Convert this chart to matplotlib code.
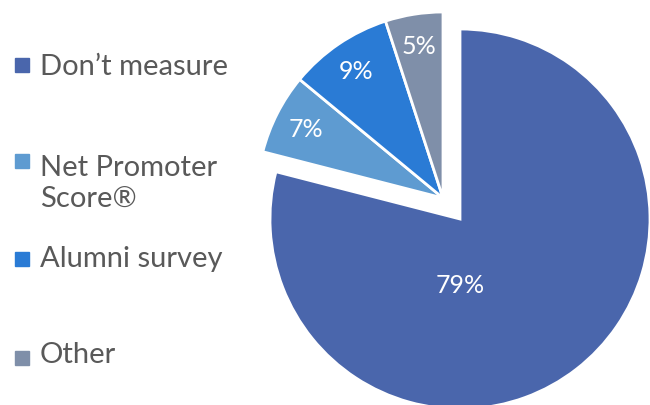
import matplotlib.pyplot as plt
from matplotlib.patches import Rectangle

# Share of respondents by how they measure
labels = ["Don’t measure", "Net Promoter\nScore®", "Alumni survey", "Other"]
shares = [79, 7, 9, 5]
colors = ["#4A66AC", "#5E9BD1", "#2A7BD5", "#7F8FA9"]

plt.rcParams['font.family'] = ['Lato', 'DejaVu Sans']

fig = plt.figure(figsize=(6.5, 4.06), dpi=100)
ax = fig.add_axes([0, 0, 1, 1])

center = (460, 186)
radius = 190
wedges, _, pcts = ax.pie(
    shares, colors=colors, startangle=90, counterclock=False,
    center=center, radius=radius, autopct='%d%%', pctdistance=0.81,
    wedgeprops=dict(edgecolor='white', linewidth=2),
    textprops=dict(color='white', fontsize=18),
)

# pull the small slices out together as one group
dx, dy = -17, 21
for w, t in zip(wedges[1:], pcts[1:]):
    w.set_center((center[0] + dx, center[1] + dy))
    w.set_radius(186)
    x, y = t.get_position()
    t.set_position((x + dx, y + dy))
pcts[0].set_position((center[0], center[1] - 66))

# pixel-like coordinates for the whole canvas
ax.set_xlim(0, 650)
ax.set_ylim(0, 406)
ax.set_aspect('equal')
ax.axis('off')

# legend on the left (text anchored at the baseline of its last line)
square_y = [340, 244.5, 146.5, 47.5]
text_y = [331, 199, 139, 43]
for lab, c, sy, ty in zip(labels, colors, square_y, text_y):
    ax.add_patch(Rectangle((15, sy - 7), 14, 14, color=c))
    ax.text(40, ty, lab, fontsize=21, color='#595959', va='baseline',
            ha='left', linespacing=1.22)

fig.savefig('out.png', dpi=100)
